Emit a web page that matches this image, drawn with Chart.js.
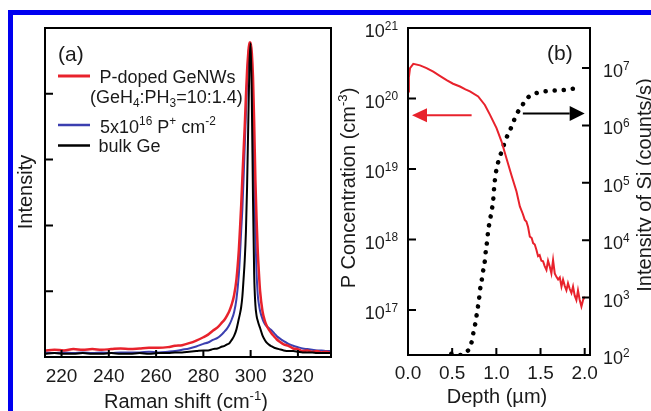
<!DOCTYPE html>
<html>
<head>
<meta charset="utf-8">
<script src="https://cdn.jsdelivr.net/npm/chart.js@4"></script>
<style>
  html, body { margin: 0; padding: 0; background: #fff; }
  #wrap { position: relative; width: 651px; height: 411px; overflow: hidden; background: #fff; }
  #wrap canvas { position: absolute; left: 0; top: 0; }
  .edgeTop { position: absolute; left: 8px; top: 10px; width: 643px; height: 5px; background: #0000f0; }
  .edgeLeft { position: absolute; left: 8px; top: 10px; width: 5px; height: 401px; background: #0000f0; }
</style>
</head>
<body>
<div id="wrap">
  <canvas id="ramanChart" width="651" height="411"></canvas>
  <canvas id="simsChart" width="651" height="411"></canvas>
  <div class="edgeTop"></div>
  <div class="edgeLeft"></div>
</div>
<script>
// (a) Raman spectra, intensity in arbitrary units (axis 0..5)
const ramanShift = [213, 217, 221, 225, 229, 233, 237, 241, 245, 249, 253, 257, 261, 265,
  268, 271, 274, 277, 280, 282, 284, 286, 288,
  289, 290, 291, 292, 293, 294, 295,
  295.5, 296, 296.5, 297, 297.5, 298, 298.5, 299, 299.5, 300, 300.5, 301, 301.5, 302, 302.5, 303, 303.5, 304,
  305, 306, 307, 308, 309, 310, 311, 312,
  314, 316, 318, 320, 322, 324, 326, 328, 330, 332, 334];

const dopedNW = [0.10, 0.11, 0.10, 0.12, 0.11, 0.12, 0.11, 0.12, 0.13, 0.12, 0.13, 0.14, 0.14, 0.15,
  0.17, 0.18, 0.21, 0.25, 0.30, 0.34, 0.40, 0.45, 0.53,
  0.57, 0.63, 0.70, 0.80, 0.94, 1.18, 1.62,
  1.95, 2.30, 2.72, 3.12, 3.50, 3.95, 4.35, 4.62, 4.78, 4.78, 4.62, 4.25, 3.55, 2.70, 2.10, 1.62, 1.28, 1.00,
  0.70, 0.55, 0.46, 0.40, 0.35, 0.31, 0.27, 0.24,
  0.19, 0.17, 0.13, 0.12, 0.09, 0.10, 0.08, 0.09, 0.07, 0.08, 0.06];

const implanted = [0.07, 0.06, 0.07, 0.06, 0.07, 0.06, 0.07, 0.06, 0.07, 0.07, 0.07, 0.08, 0.07, 0.08,
  0.09, 0.11, 0.13, 0.16, 0.20, 0.22, 0.26, 0.29, 0.35,
  0.39, 0.43, 0.49, 0.57, 0.68, 0.88, 1.25,
  1.55, 1.92, 2.25, 2.70, 3.20, 3.70, 4.20, 4.55, 4.75, 4.75, 4.45, 3.70, 2.70, 1.85, 1.30, 0.95, 0.80, 0.70,
  0.58, 0.50, 0.46, 0.43, 0.40, 0.36, 0.32, 0.29,
  0.24, 0.20, 0.17, 0.15, 0.13, 0.12, 0.11, 0.10, 0.10, 0.09, 0.09];

const bulkGe = [0.05, 0.06, 0.05, 0.05, 0.06, 0.05, 0.05, 0.06, 0.05, 0.05, 0.06, 0.05, 0.06, 0.06,
  0.07, 0.07, 0.08, 0.09, 0.10, 0.10, 0.12, 0.13, 0.16,
  0.17, 0.19, 0.21, 0.26, 0.32, 0.42, 0.58,
  0.66, 0.76, 0.92, 1.18, 1.47, 1.90, 2.60, 3.55, 4.45, 4.77, 3.90, 2.40, 1.25, 0.80, 0.63, 0.55, 0.49, 0.44,
  0.33, 0.26, 0.21, 0.18, 0.16, 0.14, 0.13, 0.12,
  0.10, 0.09, 0.09, 0.08, 0.07, 0.07, 0.07, 0.06, 0.06, 0.06, 0.06];

const ramanTicks = [220, 240, 260, 280, 300, 320];
const intensityTicks = [1, 2, 3, 4];

// (b) SIMS depth profile
const depthP = [0.0, 0.01, 0.023, 0.06, 0.136, 0.21, 0.286, 0.36, 0.437, 0.51, 0.588, 0.65, 0.701, 0.794, 0.87,
  0.927, 1.002, 1.059, 1.115, 1.172, 1.228, 1.266, 1.30, 1.322, 1.34, 1.359, 1.379, 1.40, 1.416, 1.435,
  1.454, 1.472, 1.49, 1.51, 1.529, 1.547, 1.567, 1.585, 1.605, 1.623, 1.642, 1.661, 1.68, 1.699, 1.718,
  1.737, 1.755, 1.774, 1.793, 1.811, 1.83, 1.85, 1.868, 1.887, 1.906, 1.924, 1.943, 1.963, 1.981, 2.0];
const concP = [1.26e20, 2.0e20, 2.7e20, 3.1e20, 2.95e20, 2.7e20, 2.4e20, 2.1e20, 1.82e20, 1.62e20, 1.48e20, 1.35e20, 1.26e20, 1.07e20, 8.1e19,
  5.9e19, 3.8e19, 2.45e19, 1.41e19, 8.1e18, 4.8e18, 2.95e18, 2.3e18, 1.9e18, 1.8e18, 1.5e18, 1.1e18, 1.05e18, 8.9e17, 8.5e17,
  7.1e17, 5.8e17, 6.0e17, 5.0e17, 4.9e17, 4.2e17, 3.7e17, 5.0e17, 4.1e17, 3.3e17, 5.1e17, 3.3e17, 2.95e17, 2.7e17, 2.9e17,
  2.15e17, 2.7e17, 2.2e17, 1.9e17, 2.4e17, 2.0e17, 1.74e17, 2.15e17, 1.6e17, 1.38e17, 1.9e17, 1.4e17, 1.12e17, 1.38e17, 1.55e17];

const depthSi = [0.49, 0.55, 0.607, 0.644, 0.701, 0.731, 0.746, 0.768, 0.783, 0.802, 0.814, 0.833, 0.851, 0.870, 0.881,
  0.896, 0.907, 0.927, 0.946, 0.964, 0.972, 0.983, 1.002, 1.032, 1.070, 1.107, 1.153, 1.190, 1.228, 1.285,
  1.322, 1.398, 1.492, 1.585, 1.680, 1.774, 1.868, 1.963];
const siCounts = [105, 102, 100, 110, 135, 200, 280, 390, 590, 870, 1320, 1950, 2950, 4400, 6600,
  9800, 14500, 21900, 32400, 49000, 72400, 110000, 174000, 263000, 389000, 575000, 813000, 1.12e6, 1.58e6, 2.09e6,
  2.69e6, 3.39e6, 3.8e6, 3.98e6, 4.07e6, 4.17e6, 4.37e6, 4.47e6];

const depthTicks = [0, 0.5, 1.0, 1.5, 2.0];
const pExponents = [17, 18, 19, 20, 21];
const siExponents = [2, 3, 4, 5, 6, 7];

const FAMILY = '"Liberation Sans", Arial, Helvetica, sans-serif';
const RED = '#e8222c';
const BLUE = '#3b3fb0';
const INK = '#1a1a1a';

const toPoints = (xs, ys) => xs.map((x, i) => ({ x: x, y: ys[i] }));

// text with super/subscripts: parts = [[text, 0 | 1 (sup) | -1 (sub)], ...]
function drawRich(ctx, parts, x, y, size, align) {
  const small = size * 0.66;
  let w = 0;
  parts.forEach(([t, s]) => {
    ctx.font = (s ? small : size) + 'px ' + FAMILY;
    w += ctx.measureText(t).width;
  });
  let cx = align === 'center' ? x - w / 2 : (align === 'right' ? x - w : x);
  ctx.textAlign = 'left';
  ctx.textBaseline = 'alphabetic';
  parts.forEach(([t, s]) => {
    ctx.font = (s ? small : size) + 'px ' + FAMILY;
    const dy = s > 0 ? -size * 0.4 : (s < 0 ? size * 0.22 : 0);
    ctx.fillText(t, cx, y + dy);
    cx += ctx.measureText(t).width;
  });
  return w;
}

function drawRotated(ctx, parts, cx, cy, size) {
  ctx.save();
  ctx.translate(cx, cy);
  ctx.rotate(-Math.PI / 2);
  drawRich(ctx, parts, 0, size * 0.36, size, 'center');
  ctx.restore();
}

function arrow(ctx, x0, x1, y, color, head, half) {
  const dir = Math.sign(x1 - x0);
  ctx.strokeStyle = color;
  ctx.fillStyle = color;
  ctx.lineWidth = 2;
  ctx.beginPath();
  ctx.moveTo(x0, y);
  ctx.lineTo(x1 - dir * head, y);
  ctx.stroke();
  ctx.beginPath();
  ctx.moveTo(x1, y);
  ctx.lineTo(x1 - dir * head, y - half);
  ctx.lineTo(x1 - dir * head, y + half);
  ctx.closePath();
  ctx.fill();
}

const panelA = {
  id: 'panelA',
  afterDraw(chart) {
    const { ctx, chartArea: a, scales: { x, y } } = chart;
    ctx.save();
    ctx.strokeStyle = '#000';
    ctx.lineWidth = 2;
    ctx.strokeRect(a.left, a.top, a.right - a.left, a.bottom - a.top);
    ctx.beginPath();
    ramanTicks.forEach(v => {
      const px = x.getPixelForValue(v);
      ctx.moveTo(px, a.bottom); ctx.lineTo(px, a.bottom - 7);
    });
    intensityTicks.forEach(v => {
      const py = y.getPixelForValue(v);
      ctx.moveTo(a.left, py); ctx.lineTo(a.left + 8, py);
    });
    ctx.stroke();

    ctx.fillStyle = INK;
    drawRich(ctx, [['(a)', 0]], 58, 61, 21, 'left');

    // legend
    const rows = [[RED, 76, 3], [BLUE, 125, 2.5], ['#000', 145.5, 2.5]];
    rows.forEach(([c, ly, lw]) => {
      ctx.strokeStyle = c; ctx.lineWidth = lw;
      ctx.beginPath(); ctx.moveTo(58, ly); ctx.lineTo(90, ly); ctx.stroke();
    });
    ctx.fillStyle = INK;
    drawRich(ctx, [['P-doped GeNWs', 0]], 99.5, 83, 18, 'left');
    drawRich(ctx, [['(GeH', 0], ['4', -1], [':PH', 0], ['3', -1], ['=10:1.4)', 0]], 90, 103, 18, 'left');
    drawRich(ctx, [['5x10', 0], ['16', 1], [' P', 0], ['+', 1], [' cm', 0], ['-2', 1]], 100, 132.5, 18, 'left');
    drawRich(ctx, [['bulk Ge', 0]], 98.5, 151.5, 18, 'left');

    // axis titles
    drawRich(ctx, [['Raman shift (cm', 0], ['-1', 1], [')', 0]], 186, 408, 20, 'center');
    drawRotated(ctx, [['Intensity', 0]], 25, 192, 20);
    ctx.restore();
  }
};

const panelB = {
  id: 'panelB',
  afterDraw(chart) {
    const { ctx, chartArea: a, scales: { x, yP, ySi } } = chart;
    ctx.save();
    ctx.strokeStyle = '#000';
    ctx.lineWidth = 2;
    ctx.strokeRect(a.left, a.top, a.right - a.left, a.bottom - a.top);
    ctx.beginPath();
    depthTicks.forEach(v => {
      const px = x.getPixelForValue(v);
      ctx.moveTo(px, a.bottom); ctx.lineTo(px, a.bottom - 7);
    });
    pExponents.forEach(e => {
      const py = yP.getPixelForValue(Math.pow(10, e));
      ctx.moveTo(a.left, py); ctx.lineTo(a.left + 8, py);
    });
    siExponents.forEach(e => {
      const py = ySi.getPixelForValue(Math.pow(10, e));
      ctx.moveTo(a.right, py); ctx.lineTo(a.right - 8, py);
    });
    ctx.stroke();

    ctx.fillStyle = INK;
    pExponents.forEach(e => {
      const py = yP.getPixelForValue(Math.pow(10, e));
      drawRich(ctx, [['10', 0], [String(e), 1]], a.left - 10, py + 9, 18, 'right');
    });
    siExponents.forEach(e => {
      const py = ySi.getPixelForValue(Math.pow(10, e));
      drawRich(ctx, [['10', 0], [String(e), 1]], a.right + 13, py + 9, 18, 'left');
    });

    drawRich(ctx, [['(b)', 0]], 547, 60, 21, 'left');
    drawRich(ctx, [['Depth (\u00b5m)', 0]], 497, 403, 20, 'center');
    drawRotated(ctx, [['P Concentration (cm', 0], ['-3', 1], [')', 0]], 348, 188, 20);
    drawRotated(ctx, [['Intensity of Si (counts/s)', 0]], 644, 185, 20);

    // arrows pointing to the axis each curve belongs to
    const ry = yP.getPixelForValue(5.8e19);
    arrow(ctx, x.getPixelForValue(0.72), x.getPixelForValue(0.045), ry, RED, 15, 7);
    const by = ySi.getPixelForValue(1.62e6);
    arrow(ctx, x.getPixelForValue(1.30), x.getPixelForValue(2.0), by, '#000', 15, 7.5);
    ctx.restore();
  }
};

const tickFont = { family: FAMILY, size: 19 };

new Chart(document.getElementById('ramanChart'), {
  type: 'line',
  data: {
    datasets: [
      { label: 'bulk Ge', data: toPoints(ramanShift, bulkGe), borderColor: '#000', borderWidth: 2, order: 1 },
      { label: 'P-doped GeNWs', data: toPoints(ramanShift, dopedNW), borderColor: RED, borderWidth: 2.5, order: 2 },
      { label: '5x10^16 P+ cm^-2', data: toPoints(ramanShift, implanted), borderColor: BLUE, borderWidth: 2, order: 3 }
    ]
  },
  options: {
    responsive: false,
    animation: false,
    layout: { padding: { left: 0, top: 28, right: 320, bottom: 0 } },
    elements: { point: { radius: 0 }, line: { cubicInterpolationMode: 'monotone' } },
    plugins: { legend: { display: false }, tooltip: { enabled: false } },
    scales: {
      x: {
        type: 'linear', min: 213, max: 334,
        afterBuildTicks: s => { s.ticks = ramanTicks.map(v => ({ value: v })); },
        afterFit: s => { s.height = 54; },
        grid: { display: false, drawTicks: false },
        border: { display: false },
        ticks: { font: tickFont, color: INK, padding: 8, maxRotation: 0 }
      },
      y: {
        min: 0, max: 5,
        afterFit: s => { s.width = 45; },
        grid: { display: false, drawTicks: false },
        border: { display: false },
        ticks: { display: false }
      }
    }
  },
  plugins: [panelA]
});

new Chart(document.getElementById('simsChart'), {
  type: 'line',
  data: {
    datasets: [
      { label: 'P', data: toPoints(depthP, concP), yAxisID: 'yP', borderColor: RED, borderWidth: 2, tension: 0 },
      { label: 'Si', data: toPoints(depthSi, siCounts), yAxisID: 'ySi', borderColor: '#000', borderWidth: 4.5,
        borderDash: [0.1, 9], borderCapStyle: 'round', cubicInterpolationMode: 'monotone' }
    ]
  },
  options: {
    responsive: false,
    animation: false,
    layout: { padding: { left: 336, top: 28, right: 0, bottom: 0 } },
    elements: { point: { radius: 0 } },
    plugins: { legend: { display: false }, tooltip: { enabled: false } },
    scales: {
      x: {
        type: 'linear', min: 0, max: 2.06,
        afterBuildTicks: s => { s.ticks = depthTicks.map(v => ({ value: v })); },
        afterFit: s => { s.height = 56; },
        grid: { display: false, drawTicks: false },
        border: { display: false },
        ticks: { font: tickFont, color: INK, padding: 7, maxRotation: 0, callback: v => Number(v).toFixed(1) }
      },
      yP: {
        type: 'logarithmic', position: 'left', min: 2.3e16, max: 1e21,
        afterFit: s => { s.width = 72; },
        grid: { display: false, drawTicks: false },
        border: { display: false },
        ticks: { display: false }
      },
      ySi: {
        type: 'logarithmic', position: 'right', min: 100, max: 5e7,
        afterFit: s => { s.width = 61; },
        grid: { display: false, drawTicks: false },
        border: { display: false },
        ticks: { display: false }
      }
    }
  },
  plugins: [panelB]
});
</script>
</body>
</html>
